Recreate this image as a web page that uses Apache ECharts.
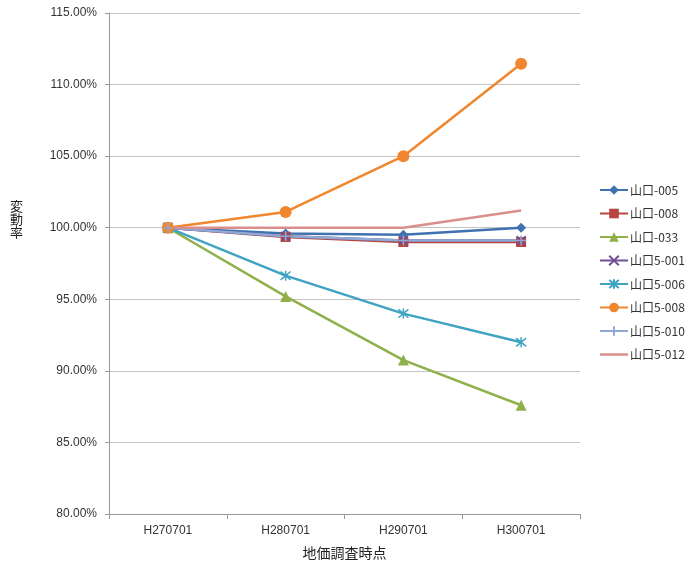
<!DOCTYPE html>
<html>
<head>
<meta charset="utf-8">
<script src="https://cdn.jsdelivr.net/npm/echarts@6/dist/echarts.min.js"></script>
<style>
  html, body { margin: 0; padding: 0; background: #fff; }
  #chart { width: 686px; height: 562px; }
</style>
</head>
<body>
<div id="chart"></div>
<script>
// 地価調査時点
const categories = ['H270701', 'H280701', 'H290701', 'H300701'];

// 変動率 (%) for each survey point
const s005  = [100.0, 99.6, 99.5, 100.0];
const s008  = [100.0, 99.35, 99.0, 99.0];
const s033  = [100.0, 95.2, 90.75, 87.6];
const s5001 = [100.0, 99.4, 99.1, 99.1];
const s5006 = [100.0, 96.65, 94.0, 92.0];
const s5008 = [100.0, 101.1, 105.0, 111.45];
const s5010 = [100.0, 99.4, 99.1, 99.1];
const s5012 = [100.0, 100.0, 100.0, 101.2];

const seriesNames = ['山口-005', '山口-008', '山口-033', '山口5-001', '山口5-006', '山口5-008', '山口5-010', '山口5-012'];
const seriesData = [s005, s008, s033, s5001, s5006, s5008, s5010, s5012];

const colors = ['#3F72AF', '#B8443F', '#8FB04A', '#6F4F96', '#3FA3C2', '#F0872E', '#8EA9D6', '#D9908C'];

const xPath = 'path://M0,0L10,10M10,0L0,10';
const starPath = 'path://M0,0L10,10M10,0L0,10M5,-1L5,11';
const plusPath = 'path://M5,0L5,10M0,5L10,5';

const symbols = ['diamond', 'rect', 'triangle', xPath, starPath, 'circle', plusPath, 'none'];
const symbolSizes = [10, 10, 11, 9, 10, 12, 10, 0];
const strokeSymbols = [false, false, false, true, true, false, true, false];

const chart = echarts.init(document.getElementById('chart'));

const series = seriesNames.map((name, i) => ({
  name: name,
  type: 'line',
  data: seriesData[i],
  symbol: symbols[i],
  symbolSize: symbolSizes[i],
  showSymbol: symbols[i] !== 'none',
  lineStyle: { width: 2.5, color: colors[i] },
  itemStyle: strokeSymbols[i]
    ? { color: colors[i], borderColor: colors[i], borderWidth: 1.5 }
    : { color: colors[i], borderWidth: 0 },
  emphasis: { disabled: true },
  animation: false
}));

// legend entries; the marker-less series gets a plain line icon
const legendData = seriesNames.map((name, i) =>
  symbols[i] === 'none'
    ? { name: name, icon: 'path://M0,0L28,0L28,2.5L0,2.5Z' }
    : { name: name });

chart.setOption({
  animation: false,
  color: colors,
  grid: { left: 109, right: 106, top: 13, bottom: 48, containLabel: false, outerBoundsMode: 'none' },
  legend: {
    orient: 'vertical',
    left: 599,
    top: 184,
    padding: 0,
    itemWidth: 28,
    itemHeight: 12,
    itemGap: 11.5,
    symbolKeepAspect: true,
    textStyle: { fontFamily: 'Noto Sans CJK JP', fontSize: 12, color: '#333', padding: [0, 0, 0, -3] },
    data: legendData
  },
  xAxis: {
    type: 'category',
    data: categories,
    boundaryGap: true,
    name: '地価調査時点',
    nameLocation: 'middle',
    nameGap: 32,
    nameTextStyle: { fontFamily: 'Noto Sans CJK JP', fontSize: 14, color: '#222' },
    axisLine: { lineStyle: { color: '#9A9A9A', width: 1 } },
    axisTick: { show: true, alignWithLabel: false, length: 5, lineStyle: { color: '#9A9A9A' } },
    axisLabel: { fontFamily: 'Liberation Sans', fontSize: 12, color: '#333', margin: 11 }
  },
  yAxis: {
    type: 'value',
    min: 80,
    max: 115,
    interval: 5,
    axisLine: { show: true, lineStyle: { color: '#9A9A9A', width: 1 } },
    axisTick: { show: true, length: 4, lineStyle: { color: '#9A9A9A' } },
    axisLabel: {
      fontFamily: 'Liberation Sans', fontSize: 12, color: '#333', margin: 12,
      formatter: v => v.toFixed(2) + '%'
    },
    splitLine: { show: true, lineStyle: { color: '#C4C4C4', width: 1 } }
  },
  graphic: [{
    type: 'text',
    left: 10,
    top: 200,
    style: {
      text: '変\n動\n率',
      font: '13px "Noto Sans CJK JP"',
      fill: '#222',
      lineHeight: 13
    }
  }],
  series: series
});
</script>
</body>
</html>
